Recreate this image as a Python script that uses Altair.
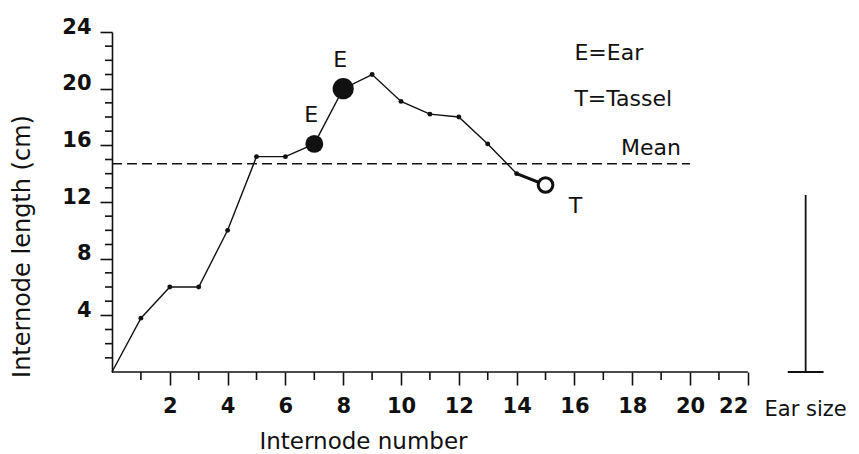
import altair as alt
import pandas as pd

# Internode lengths along the stem (internode 0 is the base of the stem)
internode = [0, 1, 2, 3, 4, 5, 6, 7, 8, 9, 10, 11, 12, 13, 14, 15]
length_cm = [0.0, 3.8, 6.0, 6.0, 10.0, 15.2, 15.2, 16.1, 20.0, 21.0, 19.1,
             18.2, 18.0, 16.1, 14.0, 13.2]
ear_nodes = [7, 8]
tassel_node = 15
mean_length = 14.7
mean_span = [0, 20]
ear_size_cm = 12.5

x_major = list(range(2, 23, 2))
x_minor = list(range(1, 23, 2))
y_major = list(range(4, 25, 4))
y_minor = [v for v in range(1, 25) if v % 4]
x_axis_max = 22

FONT = "DejaVu Sans"
INK = "#111111"

df = pd.DataFrame({"internode": internode, "length": length_cm})
df["role"] = [
    "start" if n == 0 else
    "ear" if n in ear_nodes else
    "tassel" if n == tassel_node else "node"
    for n in internode
]

x_scale = alt.Scale(domain=[0, x_axis_max + 3.5], nice=False, zero=False)
y_scale = alt.Scale(domain=[0, 24], nice=False, zero=False)

x_axis = alt.Axis(
    title="Internode number",
    values=x_major,
    domain=False,
    grid=False,
    tickSize=13,
    tickWidth=1.6,
    tickColor=INK,
    labelFont=FONT,
    labelFontSize=21,
    labelFontWeight="bold",
    labelColor=INK,
    labelPadding=10,
    labelOverlap=False,
    # the last label sits left of its tick, clear of the ear-size caption
    labelAlign={"condition": {"test": f"datum.value == {x_axis_max}", "value": "right"},
                "value": "center"},
    titleFont=FONT,
    titleFontSize=23,
    titleFontWeight="normal",
    titleColor=INK,
    titleX=251,
    titleY=69,
    titleBaseline="middle",
    titleAlign="center",
)

y_axis = alt.Axis(
    title="Internode length (cm)",
    values=y_major,
    grid=False,
    domainColor=INK,
    domainWidth=1.6,
    tickSize=12,
    tickWidth=1.6,
    tickColor=INK,
    labelFont=FONT,
    labelFontSize=21,
    labelFontWeight="bold",
    labelColor=INK,
    labelPadding=9,
    labelOffset=-5,
    labelOverlap=False,
    titleFont=FONT,
    titleFontSize=24,
    titleFontWeight="normal",
    titleColor=INK,
    titleX=-90,
    titleY=214,
    titleBaseline="middle",
    titleAlign="center",
)


def pos(xf, yf):
    """Shared x/y encodings for the layers that sit on the data scales."""
    return dict(x=alt.X(xf, scale=x_scale), y=alt.Y(yf, scale=y_scale))


base = alt.Chart(df)

# the stem profile, carrying both axes
profile = base.mark_line(color=INK, strokeWidth=1.4).encode(
    x=alt.X("internode:Q", scale=x_scale, axis=x_axis),
    y=alt.Y("length:Q", scale=y_scale, axis=y_axis),
)

tassel_segment = base.transform_filter(
    alt.datum.internode >= tassel_node - 1
).mark_line(color=INK, strokeWidth=3).encode(**pos("internode:Q", "length:Q"))

node_dots = base.transform_filter(alt.datum.role == "node").mark_circle(
    color=INK, size=24, opacity=1
).encode(**pos("internode:Q", "length:Q"))

ear_dots = base.transform_filter(alt.datum.role == "ear").mark_circle(
    color=INK, opacity=1
).encode(
    **pos("internode:Q", "length:Q"),
    size=alt.condition(f"datum.internode == {max(ear_nodes)}", alt.value(450), alt.value(320)),
)

tassel_dot = base.transform_filter(alt.datum.role == "tassel").mark_point(
    shape="circle", filled=False, color=INK, fill="white", fillOpacity=1,
    size=215, strokeWidth=3, opacity=1
).encode(**pos("internode:Q", "length:Q"))

ear_labels = base.transform_filter(alt.datum.role == "ear").mark_text(
    text="E", font=FONT, fontSize=22, color=INK, dx=-3, dy=-29, baseline="middle"
).encode(**pos("internode:Q", "length:Q"))

tassel_label = base.transform_filter(alt.datum.role == "tassel").mark_text(
    text="T", font=FONT, fontSize=22, color=INK, dx=30, dy=21, baseline="middle"
).encode(**pos("internode:Q", "length:Q"))

# mean internode length
mean_df = pd.DataFrame({"x0": [mean_span[0]], "x1": [mean_span[1]], "y": [mean_length]})
mean_rule = alt.Chart(mean_df).mark_rule(
    color=INK, strokeWidth=1.5, strokeDash=[10, 5]
).encode(**pos("x0:Q", "y:Q"), x2="x1:Q")
mean_label = alt.Chart(mean_df).mark_text(
    text="Mean", font=FONT, fontSize=22, color=INK, align="right",
    baseline="middle", dx=-9, dy=-16
).encode(**pos("x1:Q", "y:Q"))

# x axis line stops at the last internode tick
axis_df = pd.DataFrame({"x0": [0], "x1": [x_axis_max], "y": [0]})
x_axis_line = alt.Chart(axis_df).mark_rule(color=INK, strokeWidth=1.6).encode(
    **pos("x0:Q", "y:Q"), x2="x1:Q"
)

# short minor ticks at the odd internodes and at every centimetre
x_minor_ticks = alt.Chart(pd.DataFrame({"v": x_minor})).mark_rule(
    color=INK, strokeWidth=1.6
).encode(
    x=alt.X("v:Q", scale=x_scale),
    y=alt.value(340),
    y2=alt.value(348),
)
y_minor_ticks = alt.Chart(pd.DataFrame({"v": y_minor})).mark_rule(
    color=INK, strokeWidth=1.6
).encode(
    y=alt.Y("v:Q", scale=y_scale),
    x=alt.value(-7),
    x2=alt.value(0),
)

# key for the marker letters
key_df = pd.DataFrame({
    "x": [16, 16],
    "y": [22.5, 19.3],
    "text": ["E=Ear", "T=Tassel"],
})
key_text = alt.Chart(key_df).mark_text(
    font=FONT, fontSize=22, color=INK, align="left", baseline="middle"
).encode(**pos("x:Q", "y:Q"), text="text:N")

# ear size scale bar beside the axis
ear_x = x_axis_max + 2
ear_df = pd.DataFrame({
    "x": [ear_x], "xl": [ear_x - 0.62], "xr": [ear_x + 0.62],
    "y0": [0], "y1": [ear_size_cm],
})
ear_bar = alt.Chart(ear_df).mark_rule(color=INK, strokeWidth=1.8).encode(
    **pos("x:Q", "y0:Q"), y2="y1:Q"
)
ear_base = alt.Chart(ear_df).mark_rule(color=INK, strokeWidth=1.8).encode(
    **pos("xl:Q", "y0:Q"), x2="xr:Q"
)
ear_text = alt.Chart(ear_df).mark_text(
    text="Ear size", font=FONT, fontSize=21, color=INK, align="center",
    baseline="middle", dy=38
).encode(**pos("x:Q", "y0:Q"))

chart = alt.layer(
    profile, x_axis_line, x_minor_ticks, y_minor_ticks, mean_rule, mean_label,
    tassel_segment, node_dots, ear_dots, tassel_dot, ear_labels, tassel_label,
    key_text, ear_bar, ear_base, ear_text,
).properties(
    width=737,
    height=340,
    autosize=alt.AutoSizeParams(type="none"),
    padding={"left": 112, "top": 32, "right": 10, "bottom": 82},
    background="white",
).configure_view(stroke=None)

chart.save("out.html", embed_options={"renderer": "svg", "actions": False})
